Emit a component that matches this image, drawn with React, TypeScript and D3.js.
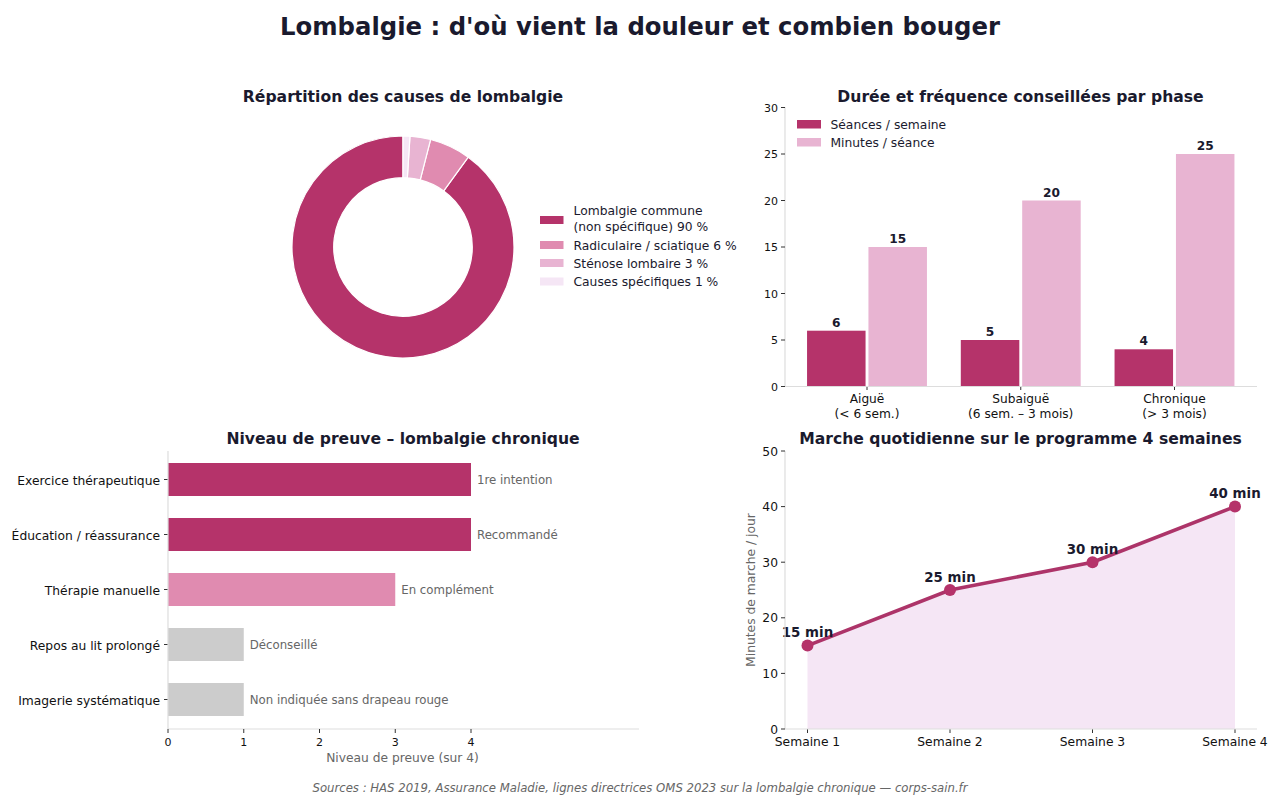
import React from "react";
import * as d3 from "d3";

const FONT = "'DejaVu Sans', sans-serif";
const DARK = "#1a1a2e";
const TICK = "#111111";
const C1 = "#b5336a";
const C2 = "#e08bb0";
const C3 = "#e8b4d2";
const C4 = "#f5e6f5";
const GREY = "#cccccc";
const SPINE = "#dddddd";
const MUTED = "#666666";
const LINEC = "#ad3469";

const causeLabels = [["Lombalgie commune", "(non spécifique) 90 %"], ["Radiculaire / sciatique 6 %"], ["Sténose lombaire 3 %"], ["Causes spécifiques 1 %"]];
const causeValues = [90, 6, 3, 1];
const causeColors = [C1, C2, C3, C4];

const phases = [["Aiguë", "(< 6 sem.)"], ["Subaiguë", "(6 sem. – 3 mois)"], ["Chronique", "(> 3 mois)"]];
const sessions = [6, 5, 4];
const minutes = [15, 20, 25];
const phaseTicks = [0, 5, 10, 15, 20, 25, 30];

const evidenceLabels = ["Exercice thérapeutique", "Éducation / réassurance", "Thérapie manuelle", "Repos au lit prolongé", "Imagerie systématique"];
const evidenceValues = [4, 4, 3, 1, 1];
const evidenceNotes = ["1re intention", "Recommandé", "En complément", "Déconseillé", "Non indiquée sans drapeau rouge"];
const evidenceColors = [C1, C1, C2, GREY, GREY];
const evidenceTicks = [0, 1, 2, 3, 4];

const weeks = ["Semaine 1", "Semaine 2", "Semaine 3", "Semaine 4"];
const walking = [15, 25, 30, 40];
const walkTicks = [0, 10, 20, 30, 40, 50];

function Donut() {
  const pie = d3.pie<number>().sort(null).startAngle(2 * Math.PI).endAngle(0);
  const arc = d3.arc<d3.PieArcDatum<number>>().innerRadius(69.3).outerRadius(111);
  const arcs = pie(causeValues);
  const rows = [220, 245, 263, 281.5];
  return (
    <g>
      <text x={403} y={101.5} textAnchor="middle" fontSize={15.6} fontWeight="bold" fill={DARK}>Répartition des causes de lombalgie</text>
      <g transform="translate(403,247)">
        {arcs.map((a, i) => <path key={i} d={arc(a) || ""} fill={causeColors[i]} stroke="#fff" strokeWidth={1.2} />)}
      </g>
      {causeLabels.map((lines, i) => (
        <g key={i}>
          <rect x={540} y={rows[i] - 4} width={23.5} height={8} fill={causeColors[i]} />
          {lines.map((l, j) => (
            <text key={j} x={573.5} y={rows[i] + 4.5 + (lines.length === 2 ? (j === 0 ? -9.5 : 6) : 0)} fontSize={12.3} fill={DARK}>{l}</text>
          ))}
        </g>
      ))}
    </g>
  );
}

function Bars() {
  const x = d3.scaleLinear().domain([0, 2]).range([867, 1174.5]);
  const y = d3.scaleLinear().domain([0, 30]).range([386.5, 107.5]);
  const w = 58.5, off = 30.7;
  return (
    <g>
      <text x={1020.5} y={101.5} textAnchor="middle" fontSize={15.6} fontWeight="bold" fill={DARK}>Durée et fréquence conseillées par phase</text>
      {phases.map((p, i) => (
        <g key={i}>
          <rect x={x(i) - off - w / 2} y={y(sessions[i])} width={w} height={y(0) - y(sessions[i])} fill={C1} />
          <rect x={x(i) + off - w / 2} y={y(minutes[i])} width={w} height={y(0) - y(minutes[i])} fill={C3} />
          <text x={x(i) - off} y={y(sessions[i]) - 4} textAnchor="middle" fontSize={12.2} fontWeight="bold" fill={DARK}>{sessions[i]}</text>
          <text x={x(i) + off} y={y(minutes[i]) - 4} textAnchor="middle" fontSize={12.2} fontWeight="bold" fill={DARK}>{minutes[i]}</text>
          <line x1={x(i)} x2={x(i)} y1={386} y2={390} stroke="#333" />
          {p.map((l, j) => <text key={j} x={x(i)} y={403 + j * 14.5} textAnchor="middle" fontSize={12.2} fill={TICK}>{l}</text>)}
        </g>
      ))}
      <line x1={785} x2={785} y1={107} y2={386} stroke={SPINE} strokeWidth={1.2} />
      <line x1={785} x2={1257} y1={386.5} y2={386.5} stroke={SPINE} strokeWidth={1.2} />
      {phaseTicks.map(t => (
        <g key={t}>
          <line x1={781} x2={785} y1={y(t)} y2={y(t)} stroke="#333" />
          <text x={778} y={y(t) + 4} textAnchor="end" fontSize={11} fill={TICK}>{t}</text>
        </g>
      ))}
      <rect x={797} y={120} width={24} height={8.5} fill={C1} />
      <text x={830.5} y={129} fontSize={12.3} fill={DARK}>Séances / semaine</text>
      <rect x={797} y={138} width={24} height={8.5} fill={C3} />
      <text x={830.5} y={147} fontSize={12.3} fill={DARK}>Minutes / séance</text>
    </g>
  );
}

function Evidence() {
  const x = d3.scaleLinear().domain([0, 4]).range([168, 471]);
  const y = d3.scaleBand<number>().domain(d3.range(5)).range([452, 727]).paddingInner(0.4).paddingOuter(0.2);
  return (
    <g>
      <text x={403} y={444} textAnchor="middle" fontSize={15.6} fontWeight="bold" fill={DARK}>Niveau de preuve – lombalgie chronique</text>
      {evidenceLabels.map((l, i) => {
        const cy = (y(i) as number) + y.bandwidth() / 2;
        return (
          <g key={i}>
            <rect x={x(0)} y={y(i)} width={x(evidenceValues[i]) - x(0)} height={y.bandwidth()} fill={evidenceColors[i]} />
            <line x1={164} x2={168} y1={cy} y2={cy} stroke="#333" />
            <text x={160} y={cy + 5} textAnchor="end" fontSize={12.3} fill={TICK}>{l}</text>
            <text x={x(evidenceValues[i]) + 6} y={cy + 4.5} fontSize={11.75} fill={MUTED}>{evidenceNotes[i]}</text>
          </g>
        );
      })}
      <line x1={168} x2={168} y1={451} y2={729} stroke={SPINE} strokeWidth={1.2} />
      <line x1={168} x2={639} y1={729} y2={729} stroke={SPINE} strokeWidth={1.2} />
      {evidenceTicks.map(t => (
        <g key={t}>
          <line x1={x(t)} x2={x(t)} y1={729} y2={733} stroke="#333" />
          <text x={x(t)} y={746} textAnchor="middle" fontSize={11} fill={TICK}>{t}</text>
        </g>
      ))}
      <text x={402.5} y={762} textAnchor="middle" fontSize={12.25} fill={MUTED}>Niveau de preuve (sur 4)</text>
    </g>
  );
}

function Walking() {
  const x = d3.scaleLinear().domain([0, 3]).range([807.5, 1235]);
  const y = d3.scaleLinear().domain([0, 50]).range([729, 451]);
  const line = d3.line<number>().x((_, i) => x(i)).y(d => y(d));
  const area = d3.area<number>().x((_, i) => x(i)).y0(y(0)).y1(d => y(d));
  return (
    <g>
      <text x={1020.5} y={444} textAnchor="middle" fontSize={15.6} fontWeight="bold" fill={DARK}>Marche quotidienne sur le programme 4 semaines</text>
      <path d={area(walking) || ""} fill={C4} />
      <path d={line(walking) || ""} fill="none" stroke={LINEC} strokeWidth={3.6} />
      {walking.map((v, i) => (
        <g key={i}>
          <circle cx={x(i)} cy={y(v)} r={6} fill={C1} />
          <text x={x(i)} y={y(v) - 8.5} textAnchor="middle" fontSize={13.4} fontWeight="bold" fill={DARK}>{v} min</text>
          <line x1={x(i)} x2={x(i)} y1={729} y2={733} stroke="#333" />
          <text x={x(i)} y={746} textAnchor="middle" fontSize={12.3} fill={TICK}>{weeks[i]}</text>
        </g>
      ))}
      <line x1={785} x2={785} y1={451} y2={729} stroke={SPINE} strokeWidth={1.2} />
      <line x1={785} x2={1257} y1={729} y2={729} stroke={SPINE} strokeWidth={1.2} />
      {walkTicks.map(t => (
        <g key={t}>
          <line x1={781} x2={785} y1={y(t)} y2={y(t)} stroke="#333" />
          <text x={778} y={y(t) + 4.5} textAnchor="end" fontSize={12.3} fill={TICK}>{t}</text>
        </g>
      ))}
      <text transform="translate(755,590) rotate(-90)" textAnchor="middle" fontSize={12.3} fill={MUTED}>Minutes de marche / jour</text>
    </g>
  );
}

export default function App() {
  return (
    <svg width={1280} height={800} viewBox="0 0 1280 800" fontFamily={FONT} style={{ position: "absolute", left: 0, top: 0, background: "#fff" }}>
      <text x={640} y={35} textAnchor="middle" fontSize={24.33} fontWeight="bold" fill={DARK}>Lombalgie : d'où vient la douleur et combien bouger</text>
      <Donut />
      <Bars />
      <Evidence />
      <Walking />
      <text x={640} y={792} textAnchor="middle" fontSize={11.7} fontStyle="italic" fill={MUTED}>Sources : HAS 2019, Assurance Maladie, lignes directrices OMS 2023 sur la lombalgie chronique — corps-sain.fr</text>
    </svg>
  );
}
